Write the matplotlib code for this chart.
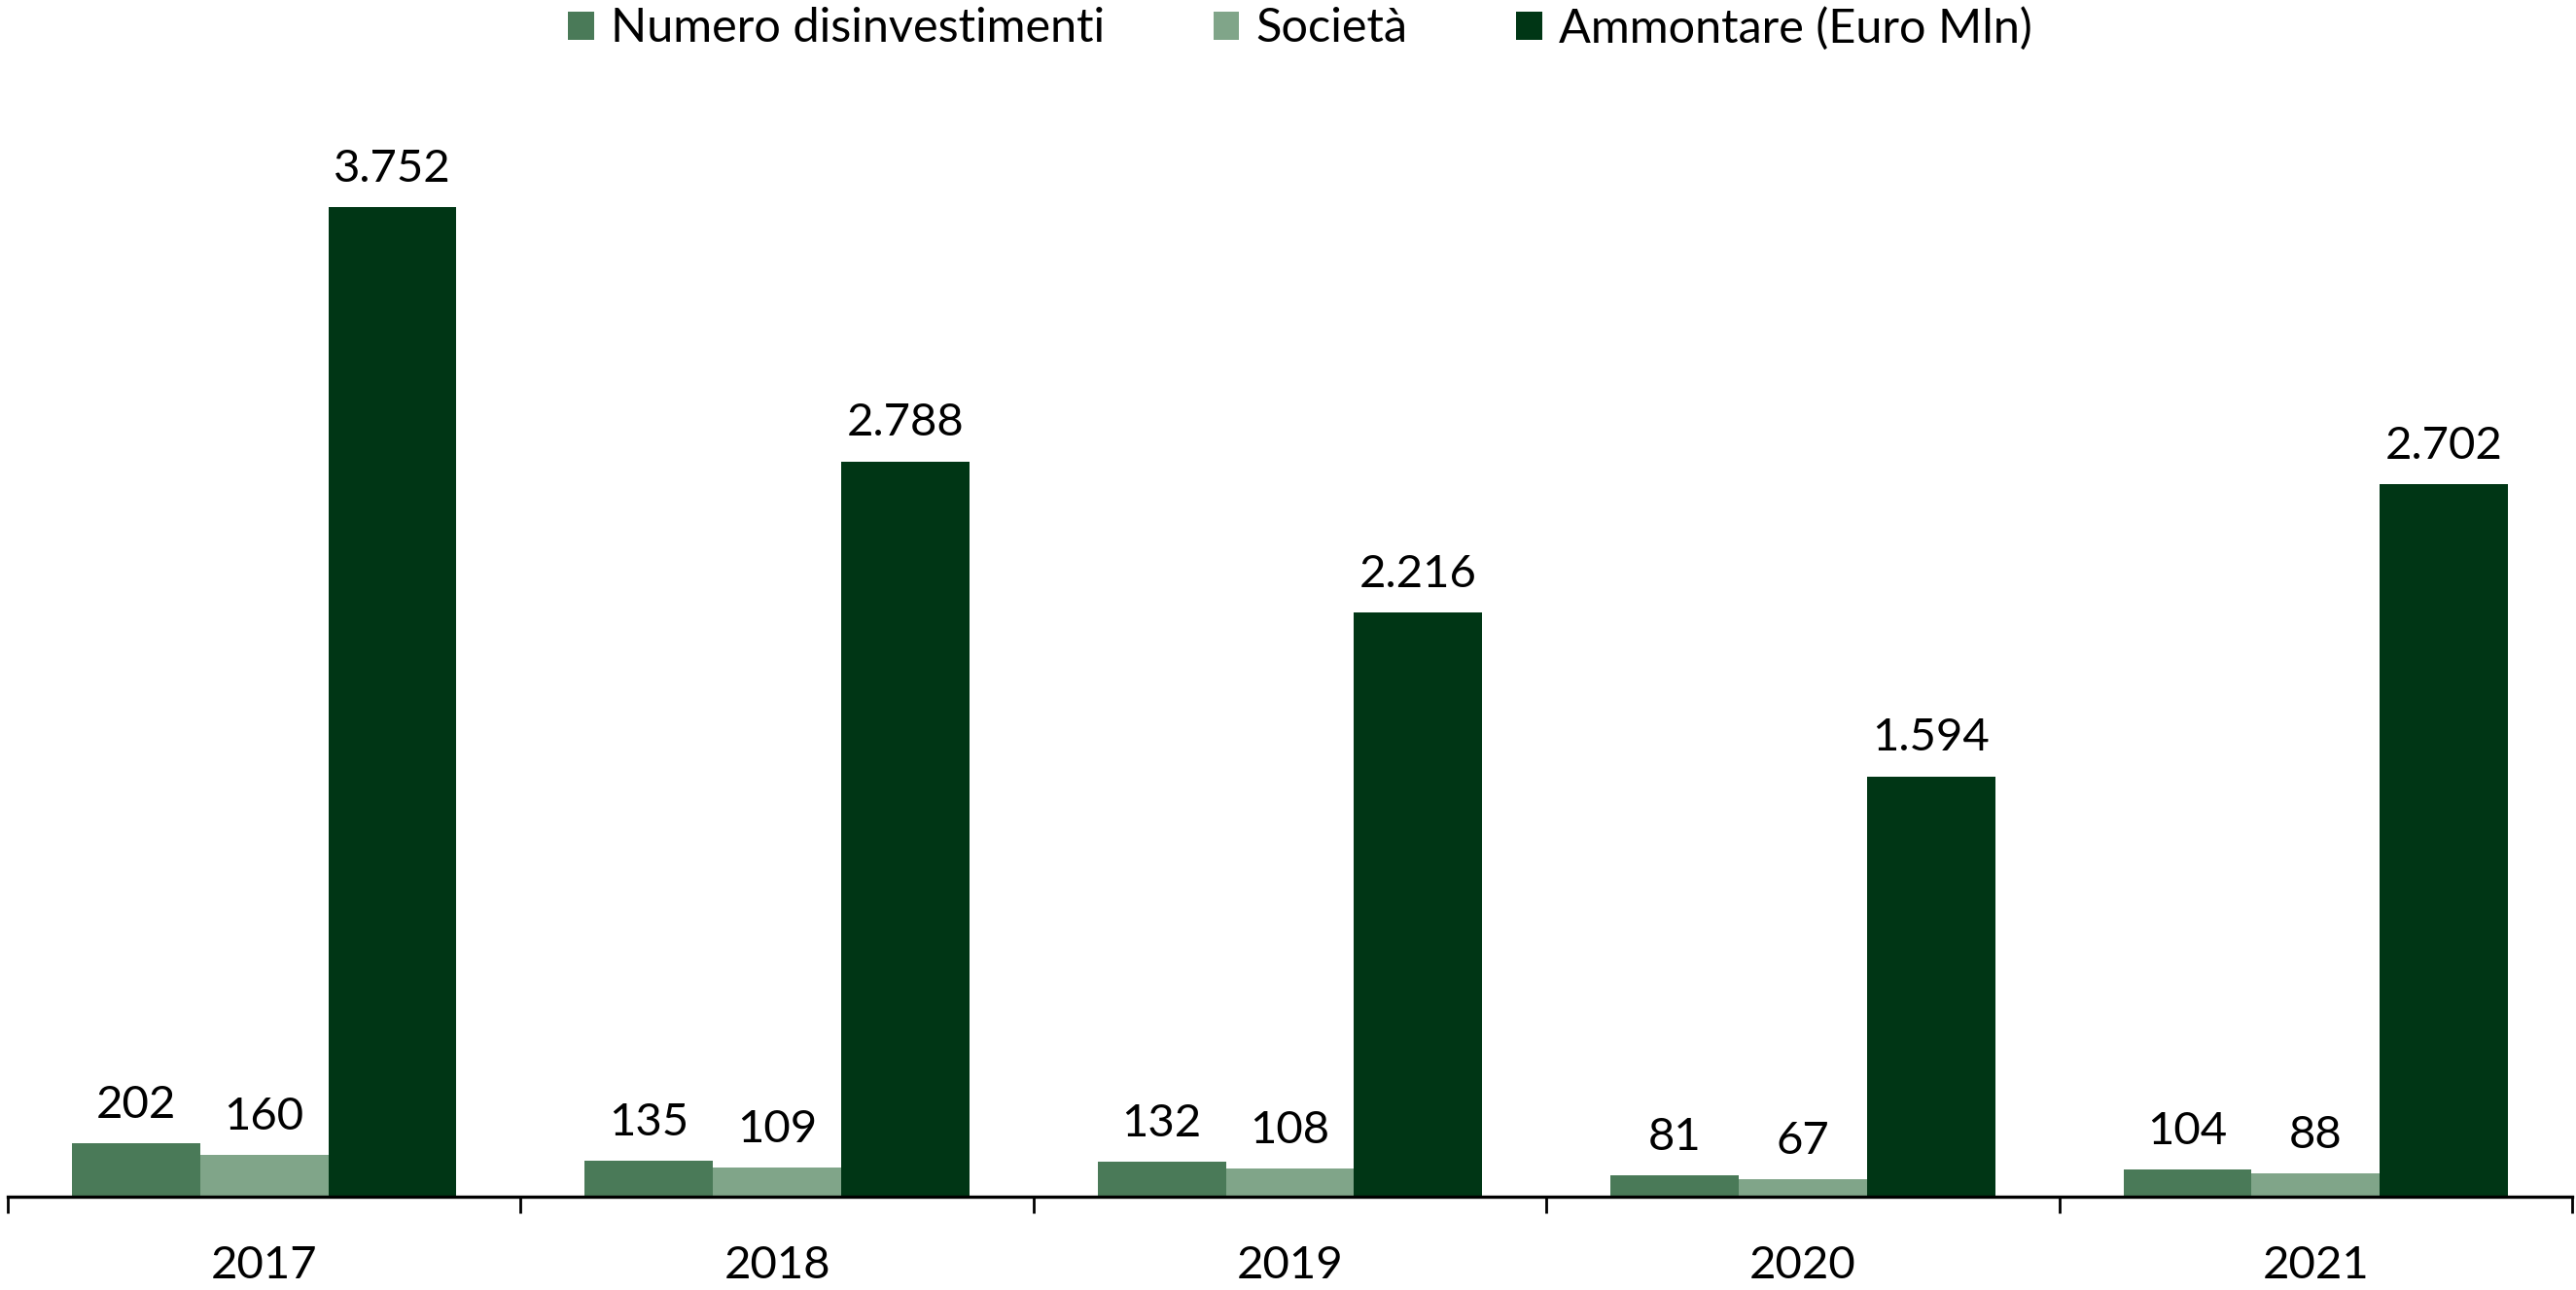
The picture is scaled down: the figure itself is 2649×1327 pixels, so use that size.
import matplotlib
matplotlib.use("Agg")
import matplotlib.pyplot as plt
import numpy as np
from matplotlib.patches import Patch

plt.rcParams['font.family'] = ['Lato', 'DejaVu Sans']

years = ["2017", "2018", "2019", "2020", "2021"]
numero = [202, 135, 132, 81, 104]
societa = [160, 109, 108, 67, 88]
ammontare = [3752, 2788, 2216, 1594, 2702]
series_names = ["Numero disinvestimenti", "Società", "Ammontare (Euro Mln)"]
colors = ["#4a7a58", "#80a589", "#003615"]

W, H = 2649, 1327
fig = plt.figure(figsize=(W / 100, H / 100), dpi=100)
ax_bottom_px = 1231
ax_top_px = 100
ax = fig.add_axes([8 / W, 1 - ax_bottom_px / H, (2645 - 8) / W, (ax_bottom_px - ax_top_px) / H])

x = np.arange(len(years))
bw = 0.25
series = [numero, societa, ammontare]
for i, (vals, c) in enumerate(zip(series, colors)):
    pos = x + (i - 1) * bw
    ax.bar(pos, vals, width=bw, color=c, edgecolor='none', zorder=2)
    for p, v in zip(pos, vals):
        lab = f"{v:,}".replace(",", ".")
        ax.annotate(lab, (p, v), xytext=(0, 13), textcoords='offset points',
                    ha='center', va='bottom', fontsize=34, color='black')

ymax = 3752 * (ax_bottom_px - ax_top_px) / (ax_bottom_px - 213)
ax.set_ylim(0, ymax)
ax.set_xlim(-0.5, len(years) - 0.5)

for s in ['top', 'right', 'left']:
    ax.spines[s].set_visible(False)
ax.spines['bottom'].set_linewidth(2.4)
ax.spines['bottom'].set_color('black')
ax.set_yticks([])
ax.set_xticks(x)
ax.set_xticklabels(years, fontsize=34)
ax.tick_params(axis='x', which='major', length=0, pad=36)
ax.set_xticks(np.arange(-0.5, len(years) + 0.5, 1), minor=True)
ax.tick_params(axis='x', which='minor', length=12, width=2, color='black')

handles = [Patch(facecolor=c, edgecolor='none') for c in colors]
fig.legend(handles, series_names, loc='center', bbox_to_anchor=(1337 / W, 1 - 29 / H),
           ncol=3, frameon=False, fontsize=35, handlelength=0.55, handleheight=0.55,
           handletextpad=0.35, columnspacing=2.3)

fig.savefig("out.png", dpi=100, facecolor='white')
